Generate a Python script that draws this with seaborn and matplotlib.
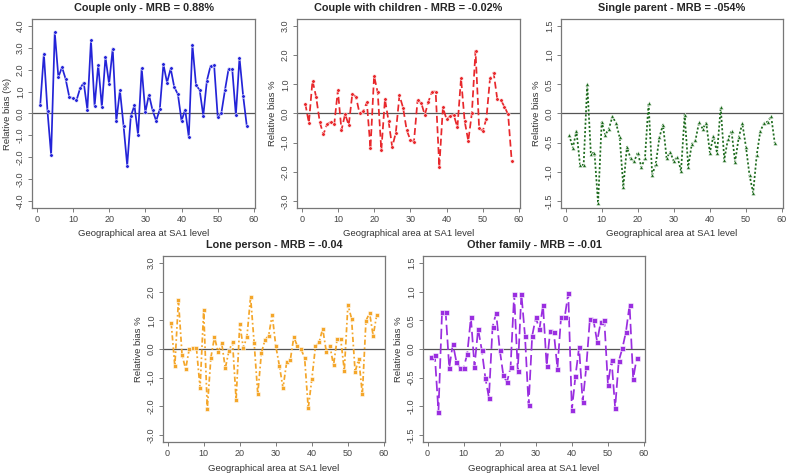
import numpy as np
import pandas as pd
import matplotlib
matplotlib.use("Agg")
import matplotlib.pyplot as plt
import seaborn as sns

# Relative bias per SA1 area (1..58)
areas = list(range(1, 59))

couple_only = [0.4, 2.74, 0.1, -1.9, 3.72, 1.66, 2.12, 1.58, 0.77, 0.69,
               0.6, 1.15, 1.41, 0.18, 3.35, 0.34, 2.23, 0.3, 2.58, 1.35,
               2.97, -0.34, 1.06, -0.57, -2.38, -0.12, 0.37, -0.98, 2.08, 0.05,
               0.86, 0.15, -0.34, 0.2, 2.25, 1.41, 2.06, 1.2, 0.88, -0.34,
               0.18, -1.08, 3.15, 1.29, 1.08, -0.1, 1.5, 2.17, 2.2, -0.18,
               0.03, 1.08, 2.05, 2.02, -0.08, 2.55, 0.82, -0.55]

couple_children = [0.34, -0.32, 1.13, 0.57, -0.29, -0.72, -0.37, -0.29, -0.37, 0.79,
                   -0.57, -0.02, -0.4, 0.68, 0.57, 0.0, 0.08, 0.38, -1.2, 1.29,
                   0.72, -1.26, 0.49, -0.26, -1.15, -0.66, 0.62, 0.2, -0.57, -0.9,
                   -0.97, 0.45, 0.37, -0.05, 0.41, 0.75, 0.75, -1.84, 0.21, -0.2,
                   -0.08, -0.05, -0.48, 1.21, -0.26, -0.94, 0.02, 2.15, -0.51, -0.6,
                   -0.18, 1.2, 1.4, 0.5, 0.46, 0.23, -0.03, -1.64]

single_parent = [-0.37, -0.59, -0.3, -0.88, -0.88, 0.51, -0.69, -0.67, -1.54, -0.15,
                 -0.37, -0.26, -0.05, -0.17, -0.41, -1.26, -0.57, -0.77, -0.82, -0.67,
                 -0.92, -0.77, 0.18, -1.05, -0.87, -0.41, -0.19, -0.76, -0.66, -0.82,
                 -0.74, -0.99, -0.02, -0.91, -0.52, -0.46, -0.15, -0.26, -0.16, -0.67,
                 -0.38, -0.68, 0.11, -0.79, -0.44, -0.3, -0.83, -0.41, -0.17, -0.57,
                 -1.06, -1.36, -0.71, -0.3, -0.17, -0.14, -0.05, -0.51]

lone_person = [0.9, -0.6, 1.7, -0.2, -0.7, 0.0, 0.02, 0.02, -1.36, 1.35,
               -2.08, -0.3, 0.42, -0.12, 0.2, -0.67, -0.06, 0.24, -1.77, 0.88,
               0.03, 0.43, 1.82, 0.21, -1.57, -0.14, 0.32, 0.46, 1.19, 0.1,
               -0.59, -1.36, -0.47, -0.4, 0.42, 0.09, 0.0, -0.32, -2.07, -1.04,
               0.09, 0.23, 0.71, -0.09, 0.12, -0.57, 0.34, 0.34, -0.75, 1.55,
               1.06, -0.8, -0.34, -1.57, 0.98, 1.26, 0.46, 1.2]

other_family = [-0.14, -0.11, -1.09, 0.65, 0.65, -0.33, 0.09, -0.23, -0.33, -0.33,
                -0.08, 0.55, -0.31, 0.35, -0.01, -0.5, -0.85, 0.38, 0.63, -0.01,
                -0.46, -0.58, -0.32, 0.96, -0.38, 0.96, 0.23, -0.98, 0.23, 0.55,
                0.34, 0.76, -0.29, 0.32, 0.29, -0.34, 0.56, 0.55, 0.97, -1.06,
                -0.47, 0.03, -0.92, -0.31, 0.53, 0.5, 0.13, 0.47, 0.5, -0.62,
                -0.19, -1.03, -0.21, 0.01, 0.3, 0.77, -0.52, -0.15]

titles = ["Couple only - MRB = 0.88%", "Couple with children - MRB = -0.02%",
          "Single parent - MRB = -054%", "Lone person - MRB = -0.04",
          "Other family - MRB = -0.01"]
ylabels = ["Relative bias (%)", "Relative bias %", "Relative bias %",
           "Relative bias %", "Relative bias %"]
yticks = [[-4, -3, -2, -1, 0, 1, 2, 3, 4],
          [-3, -2, -1, 0, 1, 2, 3],
          [-1.5, -1.0, -0.5, 0.0, 0.5, 1.0, 1.5],
          [-3, -2, -1, 0, 1, 2, 3],
          [-1.5, -1.0, -0.5, 0.0, 0.5, 1.0, 1.5]]

series = [couple_only, couple_children, single_parent, lone_person, other_family]
colors = ["#2424d8", "#e8282c", "#1e6b1e", "#f4a62a", "#9a2ee0"]
styles = ["-", (0, (4, 2)), (0, (1.2, 1.2)), (0, (3, 1.5, 1, 1.5)), (0, (6, 2.5))]
markers = ["o", "o", "^", "s", "s"]
msizes = [2.6, 2.6, 3.0, 2.6, 3.6]

sns.set_style("white")
plt.rcParams["font.family"] = ["Liberation Sans", "DejaVu Sans"]

W, H = 789, 473
fig = plt.figure(figsize=(W / 100, H / 100), dpi=100)

# axes boxes in pixels: left, top, right, bottom
boxes = [(32, 19, 255, 208), (297, 19, 520, 208), (561, 19, 783, 208),
         (163, 256, 385, 442), (423, 256, 645, 442)]

for i, (left, top, right, bottom) in enumerate(boxes):
    ax = fig.add_axes([left / W, 1 - bottom / H, (right - left) / W, (bottom - top) / H])
    df = pd.DataFrame({"area": areas, "bias": series[i]})
    sns.lineplot(data=df, x="area", y="bias", ax=ax, color=colors[i],
                 linestyle=styles[i], linewidth=1.25, marker=markers[i],
                 markersize=msizes[i], markeredgewidth=0.4, markeredgecolor="white",
                 markerfacecolor=colors[i])
    ax.axhline(0, color="#555555", linewidth=0.9, zorder=0)
    yt = yticks[i]
    pad = (yt[-1] - yt[0]) * 0.04
    ax.set_ylim(yt[0] - pad, yt[-1] + pad)
    ax.set_xlim(1 - 57 * 0.04, 58 + 57 * 0.04)
    ax.set_yticks(yt)
    ax.set_yticklabels([f"{v:.1f}" for v in yt], rotation=90, va="center")
    ax.set_xticks([0, 10, 20, 30, 40, 50, 60])
    ax.tick_params(axis="both", labelsize=6.5, length=3, width=0.6,
                   color="#666666", labelcolor="#444444", direction="out",
                   bottom=True, left=True, pad=2)
    for sp in ax.spines.values():
        sp.set_color("#777777")
        sp.set_linewidth(0.9)
    ax.set_title(titles[i], fontsize=7.8, fontweight="bold", pad=6)
    ax.set_xlabel("Geographical area at SA1 level", fontsize=6.8, color="#333333", labelpad=4)
    ax.set_ylabel(ylabels[i], fontsize=6.8, color="#333333", labelpad=3)

fig.savefig("out.png", dpi=100)
